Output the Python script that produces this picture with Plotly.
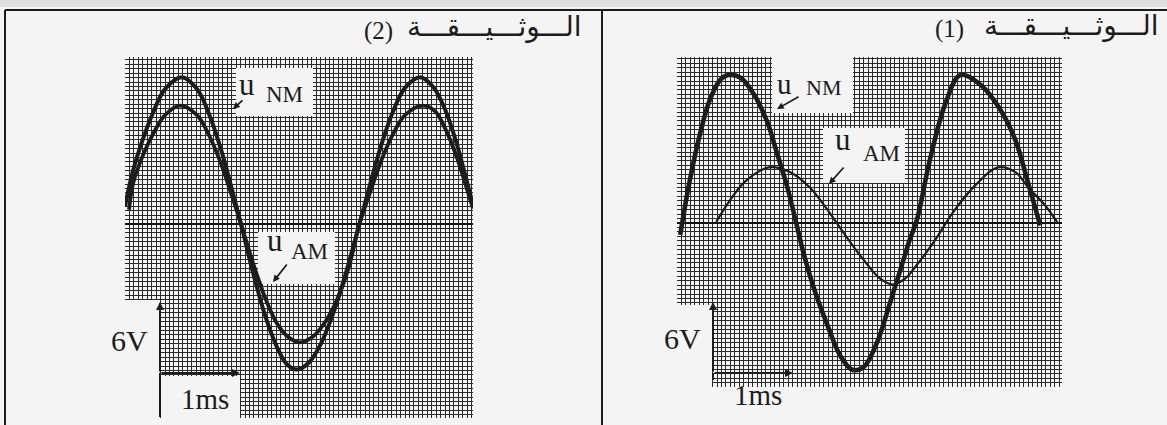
import plotly.graph_objects as go

W, H = 1167, 425
PX_MS = 80.0          # horizontal sensitivity on the sheet: pixels per millisecond
PX_V = 71.0 / 6.0     # vertical sensitivity on the sheet: pixels per volt

# ---- oscillogram (2): time in ms, voltage in V ----
t_nm_2 = [0.00, 0.10, 0.20, 0.35, 0.50, 0.71, 0.90, 1.05, 1.20, 1.33, 1.45,
          1.60, 1.75, 1.90, 2.03, 2.15, 2.30, 2.45, 2.60, 2.75, 2.93,
          3.05, 3.20, 3.35, 3.50, 3.69, 3.85, 4.00, 4.15, 4.25, 4.35]
u_nm_2 = [1.5, 4.5, 6.7, 9.4, 11.4, 12.4, 11.4, 9.3, 6.3, 3.1, 0.0,
          -4.1, -7.7, -10.4, -11.9, -12.3, -11.7, -10.1, -7.6, -4.4, 0.0,
          3.0, 6.6, 9.5, 11.5, 12.4, 11.6, 9.7, 6.7, 4.2, 1.6]
t_am_2 = [0.05, 0.10, 0.20, 0.35, 0.50, 0.69, 0.90, 1.05, 1.20, 1.33, 1.45,
          1.60, 1.75, 1.90, 2.05, 2.19, 2.35, 2.50, 2.65, 2.80, 2.93,
          3.05, 3.20, 3.35, 3.50, 3.72, 3.88, 4.00, 4.15, 4.25, 4.35]
u_am_2 = [1.2, 3.4, 5.4, 7.6, 9.2, 10.0, 9.2, 7.5, 5.1, 2.5, 0.0,
          -3.3, -6.2, -8.4, -9.6, -10.0, -9.5, -8.3, -6.4, -3.6, 0.0,
          2.4, 5.3, 7.6, 9.2, 10.0, 9.5, 8.1, 5.6, 3.5, 1.3]

# ---- oscillogram (1) ----
t_nm_1 = [0.04, 0.16, 0.29, 0.41, 0.54, 0.64, 0.79, 0.95, 1.13, 1.25, 1.38, 1.48,
          1.58, 1.73, 1.89, 2.04, 2.19, 2.33, 2.50, 2.66, 2.79, 2.91, 3.00,
          3.16, 3.35, 3.54, 3.79, 4.04, 4.23, 4.38, 4.54]
u_nm_1 = [-1.0, 3.6, 7.6, 10.4, 12.1, 12.5, 12.3, 11.0, 8.5, 5.9, 3.0, 0.3,
          -2.5, -5.9, -8.8, -11.2, -12.4, -12.2, -10.1, -6.8, -4.0, -1.4, 0.3,
          5.3, 10.0, 12.5, 11.7, 9.6, 7.0, 3.6, -0.2]
t_am_1 = [0.49, 0.66, 0.85, 1.15, 1.41, 1.66, 1.85, 2.10, 2.33, 2.54, 2.70,
          2.85, 2.98, 3.23, 3.45, 3.73, 4.01, 4.23, 4.39, 4.60, 4.76]
u_am_1 = [0.1, 1.9, 3.5, 4.7, 4.3, 3.0, 1.4, -1.0, -3.1, -4.7, -5.2,
          -4.7, -3.7, -1.4, 0.9, 3.2, 4.7, 4.3, 3.0, 1.5, 0.0]

scale_t = 1      # ms per time bracket
scale_u = 6      # V per voltage bracket
doc_word = "الـــوثـــيـــقـــة"
doc_numbers = ["(2)", "(1)"]
scale_labels = ["6V", "1ms"]

INK = "#1c1c1c"
PAPER = "#f4f4f4"
GRID = "#2a2a2a"
SERIF = "Liberation Serif"
ARABIC = "DejaVu Sans"

# screen boxes of the two graticules (pixels) and the pixel of t=0 / u=0
panels = [
    dict(x0=125, x1=473, y0=57, y1=418, zx=125, zy=224, xa="x", ya="y"),
    dict(x0=677, x1=1062, y0=57, y1=387, zx=677, zy=223, xa="x2", ya="y2"),
]


def to_data(p, px, py):
    return (px - p["zx"]) / PX_MS, (p["zy"] - py) / PX_V


def pp(px, py):
    return px / W, 1 - py / H


fig = go.Figure()

curves = [
    (t_nm_2, u_nm_2, 4.0, 0), (t_am_2, u_am_2, 3.8, 0),
    (t_nm_1, u_nm_1, 4.6, 1), (t_am_1, u_am_1, 2.2, 1),
]
for t, u, w, k in curves:
    p = panels[k]
    fig.add_trace(go.Scatter(
        x=t, y=u, mode="lines", xaxis=p["xa"], yaxis=p["ya"],
        line=dict(color=INK, width=w, shape="spline", smoothing=1.0),
        hoverinfo="skip", showlegend=False))

layout = dict(width=W, height=H, margin=dict(l=0, r=0, t=0, b=0),
              paper_bgcolor=PAPER, plot_bgcolor=PAPER, showlegend=False)

for i, p in enumerate(panels):
    xr = [(p["x0"] - p["zx"]) / PX_MS, (p["x1"] - p["zx"]) / PX_MS]
    yr = [(p["zy"] - p["y1"]) / PX_V, (p["zy"] - p["y0"]) / PX_V]
    sfx = "" if i == 0 else "2"
    layout["xaxis" + sfx] = dict(
        domain=[p["x0"] / W, p["x1"] / W], range=xr, anchor="y" + sfx,
        showticklabels=False, ticks="", showline=False, zeroline=False,
        showgrid=True, gridcolor=GRID, gridwidth=1.35, tick0=0, dtick=1 / 18)
    layout["yaxis" + sfx] = dict(
        domain=[1 - p["y1"] / H, 1 - p["y0"] / H], range=yr, anchor="x" + sfx,
        showticklabels=False, ticks="", showline=False,
        zeroline=True, zerolinecolor="#111111", zerolinewidth=2.0,
        showgrid=True, gridcolor=GRID, gridwidth=1.3, tick0=0, dtick=0.375)
fig.update_layout(**layout)

shapes = []
# clear areas of the graticule behind the labels
blank_boxes = [
    (0, [(236, 68, 313, 116), (258, 232, 335, 284), (118, 300, 159, 420),
         (161, 376, 240, 420)]),
    (1, [(772, 57, 853, 113), (823, 128, 905, 183), (670, 305, 712, 390)]),
]
for k, boxes in blank_boxes:
    p = panels[k]
    for x0, y0, x1, y1 in boxes:
        a = to_data(p, x0, y0)
        b = to_data(p, x1, y1)
        shapes.append(dict(type="rect", xref=p["xa"], yref=p["ya"],
                           x0=a[0], y0=a[1], x1=b[0], y1=b[1],
                           fillcolor=PAPER, line=dict(width=0), layer="between"))

# document frame
for x0, y0, x1, y1 in [(5, 10, 1167, 10), (5, 10, 5, 425), (602, 10, 602, 425)]:
    a, b = pp(x0, y0), pp(x1, y1)
    shapes.append(dict(type="line", xref="paper", yref="paper",
                       x0=a[0], y0=a[1], x1=b[0], y1=b[1],
                       line=dict(color=INK, width=2)))
a, b = pp(0, 0), pp(1167, 7)
shapes.append(dict(type="rect", xref="paper", yref="paper", x0=a[0], y0=a[1],
                   x1=b[0], y1=b[1], fillcolor="#e0e0e0", line=dict(width=0),
                   layer="below"))

annotations = []

# sensitivity brackets: 6 V upward, 1 ms to the right
bracket_origin = [(160, 373, 417), (713, 373, 380)]
for k, (bx, by, ylow) in enumerate(bracket_origin):
    p = panels[k]
    t0, v0 = to_data(p, bx, by)
    _, vlow = to_data(p, bx, ylow)
    shapes.append(dict(type="line", xref=p["xa"], yref=p["ya"], x0=t0, x1=t0,
                       y0=vlow, y1=v0, line=dict(color=INK, width=2)))
    annotations.append(dict(xref=p["xa"], yref=p["ya"], axref=p["xa"], ayref=p["ya"],
                            x=t0, y=v0 + scale_u, ax=t0, ay=v0, text="",
                            showarrow=True, arrowhead=2, arrowsize=0.8,
                            arrowwidth=2, arrowcolor=INK))
    annotations.append(dict(xref=p["xa"], yref=p["ya"], axref=p["xa"], ayref=p["ya"],
                            x=t0 + scale_t, y=v0, ax=t0, ay=v0, text="",
                            showarrow=True, arrowhead=2, arrowsize=0.8,
                            arrowwidth=2, arrowcolor=INK))


def label(px, py, text, size, family=SERIF, xanchor="center"):
    x, y = pp(px, py)
    annotations.append(dict(xref="paper", yref="paper", x=x, y=y, text=text,
                            showarrow=False, xanchor=xanchor, yanchor="middle",
                            font=dict(family=family, size=size, color=INK)))


def pointer(tail, tip):
    x, y = pp(*tip)
    annotations.append(dict(xref="paper", yref="paper", x=x, y=y,
                            ax=tail[0] - tip[0], ay=tail[1] - tip[1], text="",
                            showarrow=True, arrowhead=2, arrowsize=0.8,
                            arrowwidth=1.7, arrowcolor=INK))


# titles
label(584, 27, doc_word, 28, ARABIC, "right")
label(378, 31, doc_numbers[0], 25)
label(1161, 26, doc_word, 28, ARABIC, "right")
label(949, 29, doc_numbers[1], 25)

# curve names, document (2)
label(247, 84, "u", 31)
label(284, 94, "NM", 23)
pointer((244, 99), (233, 109))
label(275, 241, "u", 31)
label(309, 251, "AM", 23)
pointer((288, 263), (273, 282))

# curve names, document (1)
label(785, 84, "u", 29)
label(824, 88, "NM", 22)
pointer((800, 96), (777, 109))
label(843, 140, "u", 31)
label(881, 154, "AM", 23)
pointer((845, 166), (829, 184))

# sensitivity labels
label(129, 340, scale_labels[0], 30)
label(205, 399, scale_labels[1], 29)
label(682, 338, scale_labels[0], 30)
label(758, 395, scale_labels[1], 29)

fig.update_layout(shapes=shapes, annotations=annotations)
fig.write_html("out.html")
